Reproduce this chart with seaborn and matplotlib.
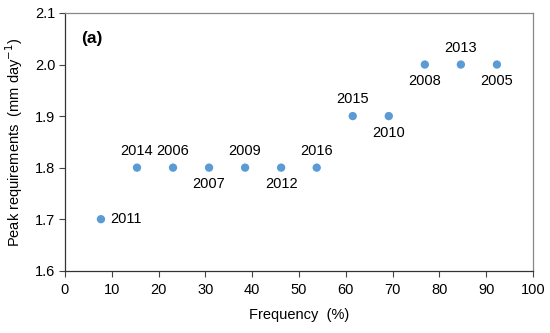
import matplotlib
matplotlib.use("Agg")
import matplotlib.pyplot as plt
import seaborn as sns

# data
frequency = [7.7, 15.4, 23.1, 30.8, 38.5, 46.2, 53.8, 61.5, 69.2, 76.9, 84.6, 92.3]
peak = [1.7, 1.8, 1.8, 1.8, 1.8, 1.8, 1.8, 1.9, 1.9, 2.0, 2.0, 2.0]
years = ["2011", "2014", "2006", "2007", "2009", "2012", "2016",
         "2015", "2010", "2008", "2013", "2005"]
# where each year label sits relative to its point
label_pos = ["right", "above", "above", "below", "above", "below", "above",
             "above", "below", "below", "above", "below"]

sns.set_style("white")
plt.rcParams["font.family"] = ["Liberation Sans", "DejaVu Sans"]
plt.rcParams["text.color"] = "black"
plt.rcParams["axes.labelcolor"] = "black"
plt.rcParams["xtick.color"] = "black"
plt.rcParams["ytick.color"] = "black"

fig = plt.figure(figsize=(5.5, 3.33), dpi=100)
ax = fig.add_axes([0.118, 0.187, 0.851, 0.774])

sns.scatterplot(x=frequency, y=peak, ax=ax, color="#5B9BD5", s=36,
                edgecolor="none", zorder=3)

fs = 10.5
for fx, py, yr, pos in zip(frequency, peak, years, label_pos):
    if pos == "above":
        ax.annotate(yr, (fx, py), xytext=(0, 7), textcoords="offset points",
                    ha="center", va="bottom", fontsize=fs)
    elif pos == "below":
        ax.annotate(yr, (fx, py), xytext=(0, -7), textcoords="offset points",
                    ha="center", va="top", fontsize=fs)
    else:
        ax.annotate(yr, (fx, py), xytext=(7, 0), textcoords="offset points",
                    ha="left", va="center", fontsize=fs)

ax.set_xlim(0, 100)
ax.set_ylim(1.6, 2.1)
ax.set_xticks(range(0, 101, 10))
ax.set_yticks([1.6, 1.7, 1.8, 1.9, 2.0, 2.1])
ax.set_yticklabels(["1.6", "1.7", "1.8", "1.9", "2.0", "2.1"])
ax.tick_params(axis="both", bottom=True, left=True, direction="out",
               length=4, width=0.8, color="#444444", labelsize=fs, pad=3)
ax.tick_params(axis="x", pad=5)

for side in ["left", "bottom"]:
    ax.spines[side].set_color("#333333")
    ax.spines[side].set_linewidth(0.9)
for side in ["top", "right"]:
    ax.spines[side].set_color("#888888")
    ax.spines[side].set_linewidth(0.9)

ax.set_xlabel("Frequency  (%)", fontsize=fs, labelpad=8)
ax.set_ylabel("Peak requirements  (mm day$^{-1}$)", fontsize=fs, labelpad=7)
ax.text(0.035, 0.93, "(a)", transform=ax.transAxes, fontsize=12.5,
        fontweight="bold", ha="left", va="top")

fig.savefig("out.png", dpi=100)
